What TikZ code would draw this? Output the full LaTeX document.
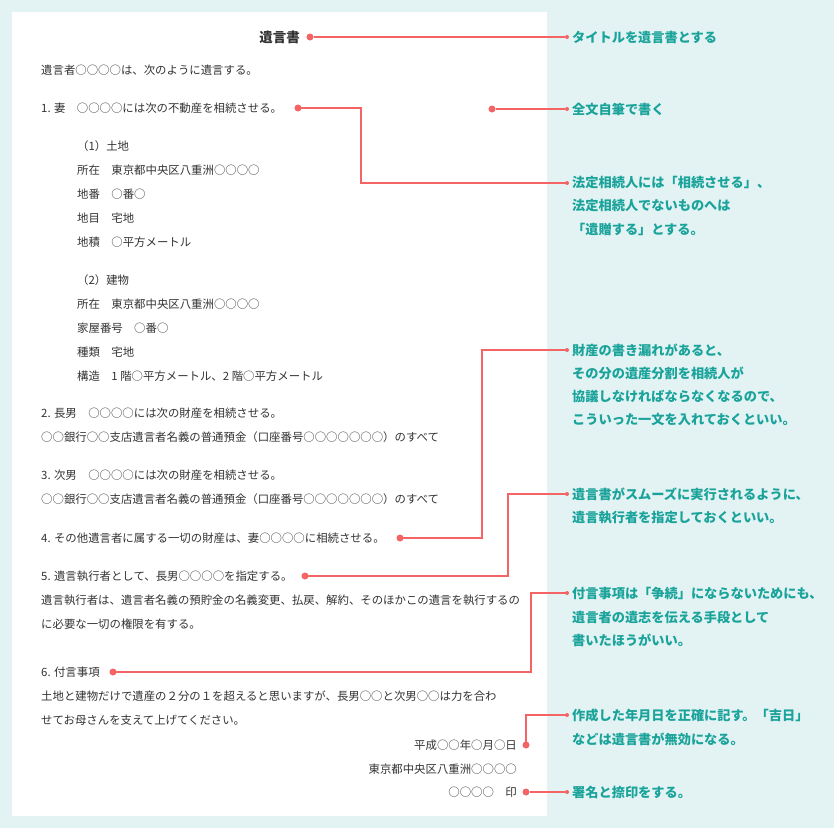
\documentclass[tikz,border=0pt]{standalone}
\usepackage{fontspec}
\setmainfont{Noto Sans CJK JP}
\definecolor{bgc}{HTML}{E3F3F4}
\definecolor{lnc}{HTML}{F46464}
\definecolor{anc}{HTML}{1AA39A}
\definecolor{txc}{HTML}{333333}
\tikzset{
 tx/.style={anchor=west,inner sep=0pt,text=txc,font=\fontsize{11.4}{13}\selectfont},
 txr/.style={anchor=east,inner sep=0pt,text=txc,font=\fontsize{11.4}{13}\selectfont},
 an/.style={anchor=west,inner sep=0pt,text=anc,font=\fontsize{13.2}{15}\selectfont\bfseries},
 bigdot/.style={circle,fill=lnc,inner sep=0pt,minimum size=7pt},
 smalldot/.style={circle,fill=lnc,inner sep=0pt,minimum size=4pt},
 ln/.style={draw=lnc,line width=1.4pt}
}
\begin{document}
\begin{tikzpicture}[x=1pt,y=-1pt]
\fill[bgc] (0,0) rectangle (834,828);
\fill[white] (12,12) rectangle (547,816);
% document text
\node[anchor=east,inner sep=0pt,text=txc,font=\fontsize{13.5}{15}\selectfont\bfseries] (title) at (300,37) {遺言書};
\node[tx] (l1) at (41,70) {遺言者○○○○は、次のように遺言する。};
\node[tx] (l2) at (41,108) {1. 妻　○○○○には次の不動産を相続させる。};
\node[tx] (l3) at (77,146) {（1）土地};
\node[tx] (l4) at (77,170) {所在　東京都中央区八重洲○○○○};
\node[tx] (l5) at (77,194) {地番　○番○};
\node[tx] (l6) at (77,218) {地目　宅地};
\node[tx] (l7) at (77,242) {地積　○平方メートル};
\node[tx] (l8) at (77,280) {（2）建物};
\node[tx] (l9) at (77,304) {所在　東京都中央区八重洲○○○○};
\node[tx] (l10) at (77,328) {家屋番号　○番○};
\node[tx] (l11) at (77,352) {種類　宅地};
\node[tx] (l12) at (77,376) {構造　1 階○平方メートル、2 階○平方メートル};
\node[tx] (l13) at (41,413) {2. 長男　○○○○には次の財産を相続させる。};
\node[tx] (l14) at (41,437) {○○銀行○○支店遺言者名義の普通預金（口座番号○○○○○○○）のすべて};
\node[tx] (l15) at (41,475) {3. 次男　○○○○には次の財産を相続させる。};
\node[tx] (l16) at (41,499) {○○銀行○○支店遺言者名義の普通預金（口座番号○○○○○○○）のすべて};
\node[tx] (l17) at (41,538) {4. その他遺言者に属する一切の財産は、妻○○○○に相続させる。};
\node[tx] (l18) at (41,576) {5. 遺言執行者として、長男○○○○を指定する。};
\node[tx] (l19) at (41,600) {遺言執行者は、遺言者名義の預貯金の名義変更、払戻、解約、そのほかこの遺言を執行するの};
\node[tx] (l20) at (41,624) {に必要な一切の権限を有する。};
\node[tx] (l21) at (41,672) {6. 付言事項};
\node[tx] (l22) at (41,696) {土地と建物だけで遺産の２分の１を超えると思いますが、長男○○と次男○○は力を合わ};
\node[tx] (l23) at (41,720) {せてお母さんを支えて上げてください。};
\node[txr] (l24) at (517,745) {平成○○年○月○日};
\node[txr] (l25) at (517,769) {東京都中央区八重洲○○○○};
\node[txr] (l26) at (517,792) {○○○○　印};
% annotations
\node[an] (a1) at (572,37) {タイトルを遺言書とする};
\node[an] (a2) at (572,109) {全文自筆で書く};
\node[an] (a3a) at (572,183) {法定相続人には「相続させる」、};
\node[an] (a3b) at (572,206) {法定相続人でないものへは};
\node[an] (a3c) at (572,229) {「遺贈する」とする。};
\node[an] (a4a) at (572,350) {財産の書き漏れがあると、};
\node[an] (a4b) at (572,373) {その分の遺産分割を相続人が};
\node[an] (a4c) at (572,396) {協議しなければならなくなるので、};
\node[an] (a4d) at (572,420) {こういった一文を入れておくといい。};
\node[an] (a5a) at (572,494) {遺言書がスムーズに実行されるように、};
\node[an] (a5b) at (572,518) {遺言執行者を指定しておくといい。};
\node[an] (a6a) at (572,593) {付言事項は「争続」にならないためにも、};
\node[an] (a6b) at (572,617) {遺言者の遺志を伝える手段として};
\node[an] (a6c) at (572,640) {書いたほうがいい。};
\node[an] (a7a) at (572,715) {作成した年月日を正確に記す。「吉日」};
\node[an] (a7b) at (572,739) {などは遺言書が無効になる。};
\node[an] (a8) at (572,792) {署名と捺印をする。};
% dots
\node[bigdot] (d1) at (310,37) {};
\node[bigdot] (d2) at (492,109) {};
\node[bigdot] (d3) at (298,108) {};
\node[bigdot] (d4) at (400,538) {};
\node[bigdot] (d5) at (305,576) {};
\node[bigdot] (d6) at (113,672) {};
\node[bigdot] (d7) at (526,745) {};
\node[bigdot] (d8) at (526,792) {};
\node[smalldot] (e1) at (567,37) {};
\node[smalldot] (e2) at (567,109) {};
\node[smalldot] (e3) at (567,183) {};
\node[smalldot] (e4) at (567,350) {};
\node[smalldot] (e5) at (567,494) {};
\node[smalldot] (e6) at (567,593) {};
\node[smalldot] (e7) at (567,715) {};
\node[smalldot] (e8) at (567,792) {};
% connectors
\draw[ln] (d1) -- (e1);
\draw[ln] (d2) -- (e2);
\draw[ln] (d3.center) -- (361,108) -- (361,183) -- (e3.center);
\draw[ln] (d4.center) -- (482,538) -- (482,350) -- (e4.center);
\draw[ln] (d5.center) -- (508,576) -- (508,494) -- (e5.center);
\draw[ln] (d6.center) -- (531,672) -- (531,593) -- (e6.center);
\draw[ln] (d7.center) -- (526,715) -- (e7.center);
\draw[ln] (d8) -- (e8);
\end{tikzpicture}
\end{document}
